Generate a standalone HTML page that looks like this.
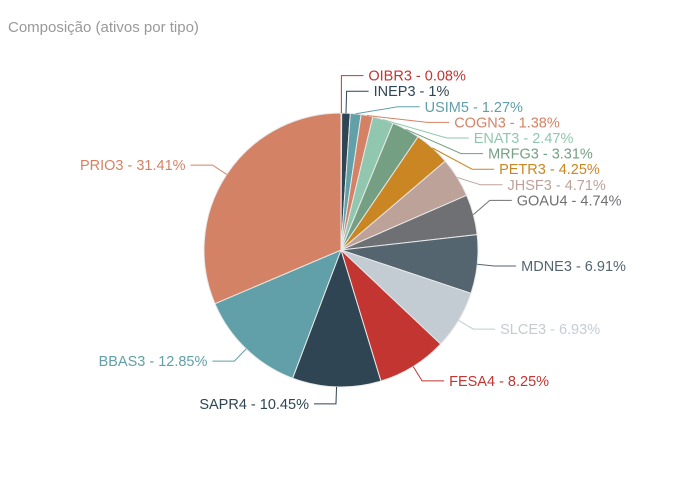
<!DOCTYPE html>
<html><head><meta charset="utf-8"><style>
html,body{margin:0;padding:0;background:#fff;}
#wrap{position:relative;width:681px;height:500px;overflow:hidden;font-family:"Liberation Sans",sans-serif;}
</style></head><body>
<div id="wrap">
<svg id="chart" width="681" height="500">
<text x="8" y="32" font-size="15" fill="#999">Composição (ativos por tipo)</text>
<g id="slices"></g><g id="labels"></g>
</svg>
</div>
<script>
const categories = ["OIBR3","INEP3","USIM5","COGN3","ENAT3","MRFG3","PETR3","JHSF3","GOAU4","MDNE3","SLCE3","FESA4","SAPR4","BBAS3","PRIO3"];
const values = [0.08,1,1.27,1.38,2.47,3.31,4.25,4.71,4.74,6.91,6.93,8.25,10.45,12.85,31.41];
const valueLabels = ["0.08%","1%","1.27%","1.38%","2.47%","3.31%","4.25%","4.71%","4.74%","6.91%","6.93%","8.25%","10.45%","12.85%","31.41%"];
const palette = ["#c23531","#2f4554","#61a0a8","#d48265","#91c7ae","#749f83","#ca8622","#bda29a","#6e7074","#546570","#c4ccd3"];

const NS="http://www.w3.org/2000/svg";
const cx=341, cy=250, r=137, len1=17, len2=22, gap=5, spacing=15.6;
const total=values.reduce((a,b)=>a+b,0);
const sG=document.getElementById('slices'), lG=document.getElementById('labels');
function pt(a,rad){return [cx+rad*Math.sin(a), cy-rad*Math.cos(a)];}
let acc=0; const items=[];
values.forEach((v,i)=>{
  const a0=acc/total*2*Math.PI; acc+=v; const a1=acc/total*2*Math.PI;
  const color=palette[i%palette.length];
  const p0=pt(a0,r), p1=pt(a1,r);
  const large=(a1-a0)>Math.PI?1:0;
  const path=document.createElementNS(NS,'path');
  path.setAttribute('d',`M${cx},${cy} L${p0[0]},${p0[1]} A${r},${r} 0 ${large} 1 ${p1[0]},${p1[1]} Z`);
  path.setAttribute('fill',color);path.setAttribute('stroke','#e8e8e8');path.setAttribute('stroke-width','1');
  
  
  sG.appendChild(path);
  const am=(a0+a1)/2;
  const e=pt(am,r), n=pt(am,r+len1);
  items.push({i,am,e,x:n[0],y:n[1],ny:n[1],right:Math.sin(am)>=0,color});
});
// label overlap adjustment per side
[true,false].forEach(side=>{
  const list=items.filter(o=>o.right===side).sort((a,b)=>a.ny-b.ny);
  for(let k=1;k<list.length;k++){ if(list[k].y<list[k-1].y+spacing) list[k].y=list[k-1].y+spacing; }
  // group moved items into a cluster and shift it up
  let k=0;
  while(k<list.length){
    let j=k; while(j+1<list.length && list[j+1].y-list[j].y<=spacing+0.01) j++;
    if(j>k){
      const grp=list.slice(k,j+1);
      const mean=grp.reduce((s,o)=>s+(o.y-o.ny),0)/grp.length;
      grp.forEach(o=>o.y-=0.6*mean);
    }
    k=j+1;
  }
  list.forEach(o=>{
    if(Math.abs(o.y-o.ny)>0.5){
      const R=r+len1, dy=o.y-cy;
      const dx=Math.abs(dy)<R?Math.sqrt(R*R-dy*dy):0;
      const nx=cx+(side?1:-1)*dx;
      o.x=side?Math.max(nx,o.x):Math.min(nx,o.x);
    }
  });
});
items.forEach(o=>{
  const s=o.right?1:-1;
  const x2=o.x+s*len2;
  const line=document.createElementNS(NS,'polyline');
  line.setAttribute('points',`${o.e[0]},${o.e[1]} ${o.x},${o.y} ${x2},${o.y}`);
  line.setAttribute('fill','none');line.setAttribute('stroke',o.color);line.setAttribute('stroke-width','1');
  
  
  lG.appendChild(line);
  const t=document.createElementNS(NS,'text');
  t.setAttribute('x',x2+s*gap);t.setAttribute('y',o.y+5);
  t.setAttribute('font-size','14.5');t.setAttribute('fill',o.color);
  t.setAttribute('text-anchor',o.right?'start':'end');
  t.textContent=categories[o.i]+' - '+valueLabels[o.i];
  
  
  lG.appendChild(t);
});
</script>
</body></html>
